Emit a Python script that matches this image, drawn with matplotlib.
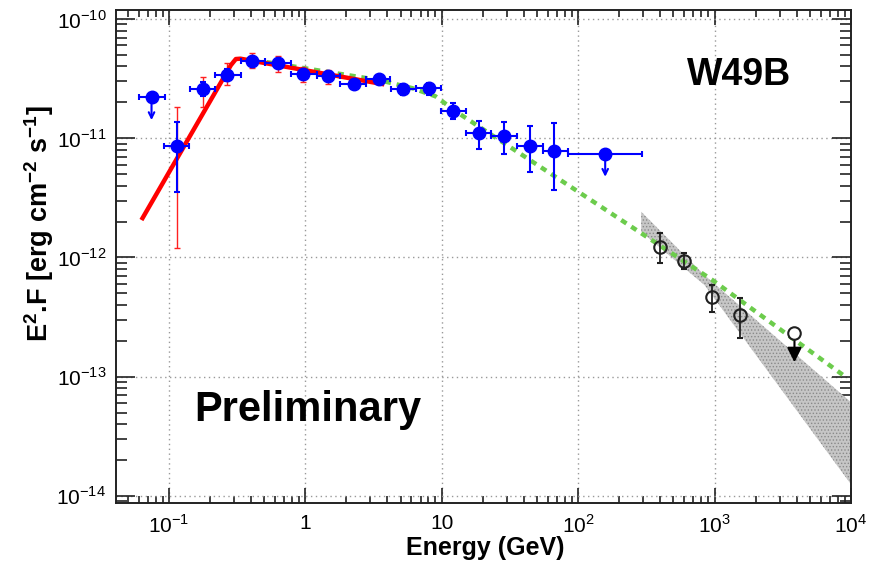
import matplotlib
matplotlib.use("Agg")
import matplotlib.pyplot as plt
import matplotlib.ticker as mticker
import numpy as np

plt.rcParams['font.family'] = ['Liberation Sans', 'DejaVu Sans']
plt.rcParams['mathtext.fontset'] = 'custom'
plt.rcParams['mathtext.rm'] = 'Liberation Sans'
plt.rcParams['mathtext.bf'] = 'Liberation Sans:bold'
plt.rcParams['hatch.linewidth'] = 0.6

# Fermi-LAT spectral points (GeV, erg cm-2 s-1)
lat_e = [0.114, 0.177, 0.269, 0.41, 0.632, 0.964, 1.47, 2.27, 3.47, 5.21,
         8.03, 12.2, 18.8, 28.6, 44.2, 66.5]
lat_e_lo = [0.092, 0.1426, 0.217, 0.341, 0.505, 0.78, 1.21, 1.81, 2.81, 4.27,
            6.53, 9.95, 15.2, 23.1, 35.6, 55.2]
lat_e_hi = [0.140, 0.217, 0.341, 0.505, 0.78, 1.21, 1.81, 2.81, 4.21, 6.53,
            9.95, 15.2, 23.1, 35.6, 55.2, 84.1]
lat_f = [8.65e-12, 2.57e-11, 3.39e-11, 4.44e-11, 4.25e-11, 3.46e-11, 3.33e-11,
         2.85e-11, 3.14e-11, 2.57e-11, 2.65e-11, 1.69e-11, 1.10e-11, 1.04e-11,
         8.65e-12, 7.85e-12]
lat_f_lo = [3.55e-12, 2.25e-11, 3.05e-11, 4.05e-11, 3.85e-11, 3.15e-11, 3.05e-11,
            2.6e-11, 2.9e-11, 2.30e-11, 2.30e-11, 1.44e-11, 8.2e-12, 7.36e-12,
            5.24e-12, 3.67e-12]
lat_f_hi = [1.37e-11, 2.95e-11, 3.8e-11, 4.85e-11, 4.65e-11, 3.75e-11, 3.6e-11,
            3.1e-11, 3.4e-11, 2.85e-11, 2.9e-11, 1.99e-11, 1.40e-11, 1.37e-11,
            1.27e-11, 1.33e-11]
# systematic error bars (red) on the low-energy points
sys_f_lo = [1.2e-12, 1.82e-11, 2.79e-11, 3.85e-11, 3.61e-11, 2.94e-11, 2.85e-11]
sys_f_hi = [1.84e-11, 3.24e-11, 4.25e-11, 5.15e-11, 4.92e-11, 3.98e-11, 3.73e-11]

# LAT upper limits
ul_e = [0.0747, 158.0]
ul_e_lo = [0.060, 84.0]
ul_e_hi = [0.093, 296.0]
ul_f = [2.2e-11, 7.36e-12]

# H.E.S.S. points
hess_e = [400.0, 593.0, 961.0, 1550.0]
hess_f = [1.23e-12, 9.4e-13, 4.68e-13, 3.29e-13]
hess_f_lo = [9.03e-13, 8.0e-13, 3.46e-13, 2.09e-13]
hess_f_hi = [1.59e-12, 1.08e-12, 5.86e-13, 4.59e-13]
hess_ul_e = 3855.0
hess_ul_f = 2.31e-13

# broken power-law fit (red)
fit_e = [0.063, 0.285, 0.31, 0.335, 3.8]
fit_f = [2.06e-12, 4.1e-11, 4.62e-11, 4.65e-11, 2.83e-11]

# model curve (green dotted)
model_e = [0.52, 3.5, 6.1, 9.0, 13.0, 19.0, 115.0, 966.0, 9420.0]
model_f = [4.35e-11, 3.07e-11, 2.63e-11, 2.25e-11, 1.65e-11, 1.24e-11,
           3.21e-12, 6.45e-13, 9.7e-14]

# H.E.S.S. butterfly
bt_upper_e = [290.0, 845.0, 1e4]
bt_upper_f = [2.42e-12, 7.1e-13, 6.1e-14]
bt_lower_e = [290.0, 845.0, 1e4]
bt_lower_f = [1.64e-12, 5.86e-13, 1.25e-14]

x_ticks = [0.1, 1, 10, 100, 1000, 10000]
x_labels = ['$10^{-1}$', '1', '10', '$10^{2}$', '$10^{3}$', '$10^{4}$']
y_ticks = [1e-14, 1e-13, 1e-12, 1e-11, 1e-10]
y_labels = ['$10^{-14}$', '$10^{-13}$', '$10^{-12}$', '$10^{-11}$', '$10^{-10}$']

fig = plt.figure(figsize=(8.76, 5.61), dpi=100)
ax = fig.add_axes([0.1324, 0.1034, 0.839, 0.8788])
ax.set_xscale('log')
ax.set_yscale('log')
ax.set_xlim(0.041, 1e4)
ax.set_ylim(10 ** -14.06, 10 ** -9.924)

# butterfly
poly_e = bt_upper_e + bt_lower_e[::-1]
poly_f = bt_upper_f + bt_lower_f[::-1]
ax.fill(poly_e, poly_f, facecolor='#c6c6c6', edgecolor='#8a8a8a', lw=0,
        hatch='.....', zorder=2)

ax.plot(model_e, model_f, color='#6ccc4c', lw=3.2, ls=(0, (1.4, 1.3)), zorder=3)
ax.plot(fit_e, fit_f, color='#ff0000', lw=3.2, solid_joinstyle='round',
        solid_capstyle='butt', zorder=5)

lat_e = np.array(lat_e)
lat_f = np.array(lat_f)
n_sys = len(sys_f_lo)
ax.errorbar(lat_e[:n_sys], lat_f[:n_sys],
            yerr=[lat_f[:n_sys] - np.array(sys_f_lo), np.array(sys_f_hi) - lat_f[:n_sys]],
            fmt='none', ecolor='#ff2020', elinewidth=1.0, capsize=2.5, zorder=4)
ax.errorbar(lat_e, lat_f,
            xerr=[lat_e - np.array(lat_e_lo), np.array(lat_e_hi) - lat_e],
            yerr=[lat_f - np.array(lat_f_lo), np.array(lat_f_hi) - lat_f],
            fmt='o', color='#0000ff', ms=9, elinewidth=1.5, capsize=2.5,
            capthick=1.5, zorder=6)

ul_e = np.array(ul_e)
ax.errorbar(ul_e, ul_f, xerr=[ul_e - np.array(ul_e_lo), np.array(ul_e_hi) - ul_e],
            fmt='o', color='#0000ff', ms=9, elinewidth=1.5, capsize=2.5,
            capthick=1.5, zorder=6)
for e, f in zip(ul_e, ul_f):
    ax.annotate('', xy=(e, f / 1.55), xytext=(e, f),
                arrowprops=dict(arrowstyle='->', color='#0000ff', lw=1.5,
                                shrinkA=0, shrinkB=0, mutation_scale=10), zorder=6)

hess_e = np.array(hess_e)
hess_f = np.array(hess_f)
ax.errorbar(hess_e, hess_f,
            yerr=[hess_f - np.array(hess_f_lo), np.array(hess_f_hi) - hess_f],
            fmt='o', mfc='none', mec='#202020', ecolor='#202020', ms=9, mew=1.5,
            elinewidth=1.3, capsize=2.5, zorder=6)
ax.plot([hess_ul_e], [hess_ul_f], 'o', mfc='white', mec='#202020', ms=9, mew=1.5,
        zorder=7)
ax.annotate('', xy=(hess_ul_e, hess_ul_f / 1.75), xytext=(hess_ul_e, hess_ul_f),
            arrowprops=dict(arrowstyle='-|>', color='black', lw=1.5,
                            shrinkA=4, shrinkB=0, mutation_scale=22), zorder=6)

# axes styling
ax.xaxis.set_major_locator(mticker.FixedLocator(x_ticks))
ax.xaxis.set_major_formatter(mticker.FixedFormatter(x_labels))
ax.yaxis.set_major_locator(mticker.FixedLocator(y_ticks))
ax.yaxis.set_major_formatter(mticker.FixedFormatter(y_labels))
ax.xaxis.set_minor_locator(mticker.LogLocator(base=10, subs=np.arange(2, 10), numticks=20))
ax.yaxis.set_minor_locator(mticker.LogLocator(base=10, subs=np.arange(2, 10), numticks=20))
ax.xaxis.set_minor_formatter(mticker.NullFormatter())
ax.yaxis.set_minor_formatter(mticker.NullFormatter())
ax.tick_params(which='both', direction='in', top=True, right=True, width=1.2,
               color='#222222')
ax.tick_params(axis='x', which='major', length=11, labelsize=15, pad=8)
ax.tick_params(axis='x', which='minor', length=5)
ax.tick_params(axis='y', which='major', length=14, labelsize=15, pad=7)
ax.tick_params(axis='y', which='minor', length=8)
for s in ax.spines.values():
    s.set_linewidth(1.4)
    s.set_color('#222222')
ax.grid(True, which='major', ls=(0, (1, 2.5)), color='#999999', lw=1.0)
ax.set_axisbelow(True)

ax.set_xlabel('Energy (GeV)', fontsize=18, fontweight='bold')
ax.xaxis.set_label_coords(0.502, -0.066)
ax.set_ylabel(r'E$^{\mathbf{2}}$.F [erg cm$^{\mathbf{-2}}$ s$^{\mathbf{-1}}$]',
              fontsize=19.5, fontweight='bold')
ax.yaxis.set_label_coords(-0.082, 0.566)

ax.text(0.848, 0.868, 'W49B', transform=ax.transAxes, fontsize=27,
        fontweight='bold', ha='center', va='center')
ax.text(0.261, 0.189, 'Preliminary', transform=ax.transAxes, fontsize=30,
        fontweight='bold', ha='center', va='center')

fig.savefig('out.png', dpi=100)
